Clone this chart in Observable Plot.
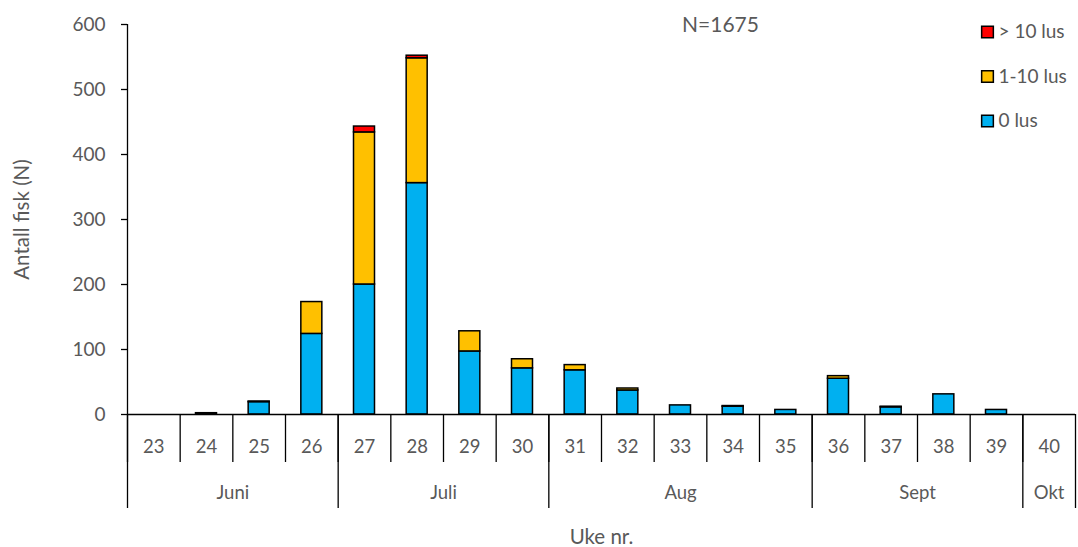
<!DOCTYPE html>
<html>
<head>
<meta charset="utf-8">
<script src="https://cdn.jsdelivr.net/npm/d3@7"></script>
<script src="https://cdn.jsdelivr.net/npm/@observablehq/plot@0.6"></script>
<style>
  html, body { margin: 0; padding: 0; background: #fff; }
  #chart svg { display: block; }
</style>
</head>
<body>
<div id="chart"></div>
<script>
// ---- data ----
const weeks = [23, 24, 25, 26, 27, 28, 29, 30, 31, 32, 33, 34, 35, 36, 37, 38, 39, 40];
const lus0 = [0, 2, 19, 124, 200, 356, 97, 71, 68, 37, 14, 12, 7, 55, 11, 31, 7, 0];
const lus1to10 = [0, 0, 1, 49, 234, 192, 31, 14, 8, 3, 0, 1, 0, 4, 1, 0, 0, 0];
const lusOver10 = [0, 0, 0, 0, 9, 4, 0, 0, 0, 0, 0, 0, 0, 0, 0, 0, 0, 0];
const seriesNames = ["0 lus", "1-10 lus", "> 10 lus"];
const seriesColors = ["#00B0F0", "#FFC000", "#FF0000"];
const months = ["Juni", "Juli", "Aug", "Sept", "Okt"];
const monthStartWeeks = [23, 27, 31, 36, 40];
const monthWeekCounts = [4, 4, 5, 4, 1];
const yTicks = [0, 100, 200, 300, 400, 500, 600];
const totalLabel = "N=1675";

// ---- build table ----
const seriesValues = [lus0, lus1to10, lusOver10];
const data = [];
weeks.forEach((w, i) => {
  seriesValues.forEach((vals, s) => {
    if (vals[i] > 0) data.push({week: w, series: seriesNames[s], count: vals[i]});
  });
});

const W = 1078, H = 547;
const ml = 127, mr = 3, mt = 24, mb = 133;
const step = (W - ml - mr) / weeks.length;
const font = "Lato, 'Open Sans', sans-serif";
const grey = "#595959";

const monthMarks = months.map((m, i) =>
  Plot.text([m], {
    x: () => monthStartWeeks[i],
    frameAnchor: "bottom",
    lineAnchor: "middle",
    dx: (monthWeekCounts[i] * step) / 2 - step / 2,
    dy: 79,
    fontSize: 18.5,
    fill: grey
  })
);

const legendOrder = [2, 1, 0];
const legendMarks = legendOrder.flatMap((s, row) => [
  Plot.dot([seriesNames[s]], {
    frameAnchor: "top-right",
    dx: -88,
    dy: 7.5 + row * 44.5,
    symbol: "square",
    r: 6.6,
    fill: seriesColors[s],
    stroke: "#000",
    strokeWidth: 1.5
  }),
  Plot.text([seriesNames[s]], {
    frameAnchor: "top-right",
    lineAnchor: "middle",
    dx: -77,
    dy: 7.5 + row * 44.5,
    textAnchor: "start",
    fontSize: 19,
    fill: grey
  })
]);

const chart = Plot.plot({
  width: W,
  height: H,
  marginLeft: ml,
  marginRight: mr,
  marginTop: mt,
  marginBottom: mb,
  style: {fontFamily: font, background: "#fff"},
  x: {type: "band", domain: weeks, paddingInner: 0, paddingOuter: 0, round: false, axis: null},
  y: {domain: [0, 600], axis: null},
  color: {domain: seriesNames, range: seriesColors},
  marks: [
    Plot.barY(data, Plot.stackY({
      x: "week",
      y: "count",
      fill: "series",
      order: seriesNames,
      stroke: "#000",
      strokeWidth: 1.5,
      insetLeft: (step - 21) / 2,
      insetRight: (step - 21) / 2
    })),
    // y axis
    Plot.axisY({
      ticks: yTicks,
      tickSize: 6,
      tickPadding: 16,
      fontSize: 19,
      color: grey,
      stroke: "#000",
      strokeWidth: 1.3,
      label: null
    }),
    Plot.ruleX([weeks[0]], {dx: -step / 2, stroke: "#000", strokeWidth: 1.3}),
    Plot.ruleY([0], {stroke: "#000", strokeWidth: 1.5}),
    // week separators
    Plot.axisX({
      ticks: weeks,
      tickSize: 48,
      tickFormat: () => "",
      dx: -step / 2,
      stroke: "#000",
      strokeWidth: 1.3,
      label: null
    }),
    // month separators
    Plot.axisX({
      ticks: monthStartWeeks,
      tickSize: 94,
      tickFormat: () => "",
      dx: -step / 2,
      stroke: "#000",
      strokeWidth: 1.3,
      label: null
    }),
    Plot.axisX({
      ticks: [weeks[weeks.length - 1]],
      tickSize: 94,
      tickFormat: () => "",
      dx: step / 2,
      stroke: "#000",
      strokeWidth: 1.3,
      label: null
    }),
    // week labels
    Plot.axisX({
      ticks: weeks,
      tickSize: 0,
      tickPadding: 25,
      fontSize: 18.5,
      color: grey,
      label: null
    }),
    ...monthMarks,
    Plot.text(["Uke nr."], {frameAnchor: "bottom", lineAnchor: "middle", dy: 123, fontSize: 20.5, fill: grey}),
    Plot.text(["Antall fisk (N)"], {frameAnchor: "left", textAnchor: "middle", lineAnchor: "middle", dx: -105, rotate: -90, fontSize: 20.5, fill: grey}),
    Plot.text([totalLabel], {frameAnchor: "top", lineAnchor: "middle", dx: 119, dy: 1, fontSize: 21, fill: grey}),
    ...legendMarks
  ]
});
document.getElementById("chart").appendChild(chart);
</script>
</body>
</html>
